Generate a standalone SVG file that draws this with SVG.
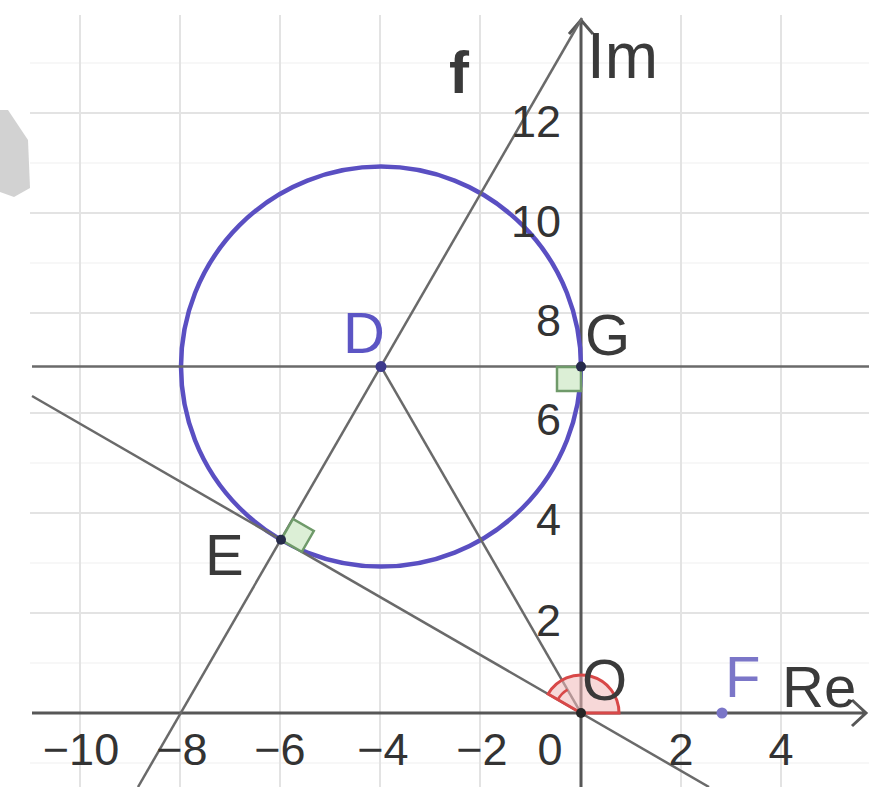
<svg xmlns="http://www.w3.org/2000/svg" width="869" height="787" viewBox="0 0 869 787">
<style>
.grid{stroke:#e3e3e3;stroke-width:2;fill:none}
.minor{stroke:#f5f5f5;stroke-width:1.5;fill:none}
.axis{stroke:#575757;stroke-width:3;fill:none}
.ln{stroke:#6a6a6a;stroke-width:2.5;fill:none}
.tick{font-family:"Liberation Sans",Arial,sans-serif;font-size:45px;fill:#333}
.lab{font-family:"Liberation Sans",Arial,sans-serif;font-size:58px;fill:#3a3a3a}
.blue{fill:#5c55c4}
.ra{fill:#dcefd6;stroke:#6f9a6a;stroke-width:2.5}
.pt{stroke:none}
</style>
<rect width="869" height="787" fill="#fff"/>
<polygon points="0,110 8,110 28,140 30,188 14,197 0,192" fill="#d2d2d2"/>
<g id="grid">
<path class="minor" d="M30,63H869M30,163H869M30,263H869M30,463H869M30,563H869M30,663H869M30,763H869"/>
<path class="grid" d="M80,15V787M180,15V787M280,15V787M380,15V787M480,15V787M681,15V787M781,15V787"/>
<path class="grid" d="M30,113H869M30,213H869M30,313H869M30,413H869M30,513H869M30,613H869"/>
</g>
<g id="axes">
<path class="axis" d="M32,713H866M852,700L866,713L852,726"/>
<path class="axis" d="M581,787V20M569,34L581,20L593,34"/>
</g>
<g id="circle">
<circle cx="381" cy="366.6" r="200" fill="none" stroke="#5a4fc2" stroke-width="4.5"/>
</g>
<g id="connectors">
<line class="ln" x1="32" y1="366.6" x2="869" y2="366.6" stroke="#555"/>
<line class="ln" x1="138" y1="787" x2="582" y2="18"/>
<line class="ln" x1="32" y1="396" x2="709" y2="787"/>
<line class="ln" x1="381" y1="366.6" x2="581" y2="713"/>
</g>
<g id="angle-O">
<path d="M581,713L619,713A38,38 0 0 0 548.1,694Z" fill="#f0b8b8" fill-opacity="0.55" stroke="#d84848" stroke-width="3"/>
<path d="M557.8,699.6A27,27 0 0 1 567.5,689.6" fill="none" stroke="#d84848" stroke-width="2.5"/>
</g>
<g id="right-angle-G">
<rect class="ra" x="557" y="367" width="24" height="24"/>
</g>
<g id="right-angle-E">
<polygon class="ra" points="281,539.8 293,519 313.8,531 301.8,551.8"/>
</g>
<g id="point-D"><circle class="pt" cx="381" cy="366.6" r="5.5" fill="#3d3a8c"/><text class="lab blue" x="343" y="353">D</text></g>
<g id="point-G"><circle class="pt" cx="581" cy="366.6" r="5" fill="#262a4a"/><text class="lab" x="585" y="355">G</text></g>
<g id="point-E"><circle class="pt" cx="281" cy="539.8" r="5" fill="#262a4a"/><text class="lab" x="205" y="575">E</text></g>
<g id="point-O"><circle class="pt" cx="581" cy="713" r="5" fill="#262626"/><text class="lab" x="582" y="700">O</text></g>
<g id="point-F"><circle class="pt" cx="722" cy="713" r="5.5" fill="#7b76c8"/><text class="lab" x="725" y="697" style="fill:#7b76c8">F</text></g>
<g id="labels">
<text class="lab" x="449" y="93" font-weight="bold" style="font-size:60px">f</text>
<text class="lab" x="587" y="78" style="font-size:64px">Im</text>
<text class="lab" x="782" y="707">Re</text>
</g>
<g id="ticks">
<text class="tick" x="81" y="765" text-anchor="middle">−10</text>
<text class="tick" x="182" y="765" text-anchor="middle">−8</text>
<text class="tick" x="280" y="765" text-anchor="middle">−6</text>
<text class="tick" x="383" y="765" text-anchor="middle">−4</text>
<text class="tick" x="482" y="765" text-anchor="middle">−2</text>
<text class="tick" x="550" y="765" text-anchor="middle">0</text>
<text class="tick" x="681" y="765" text-anchor="middle">2</text>
<text class="tick" x="781" y="765" text-anchor="middle">4</text>
<text class="tick" x="561" y="137" text-anchor="end">12</text>
<text class="tick" x="561" y="237" text-anchor="end">10</text>
<text class="tick" x="561" y="336" text-anchor="end">8</text>
<text class="tick" x="561" y="435" text-anchor="end">6</text>
<text class="tick" x="561" y="535" text-anchor="end">4</text>
<text class="tick" x="561" y="636" text-anchor="end">2</text>
</g>
</svg>
